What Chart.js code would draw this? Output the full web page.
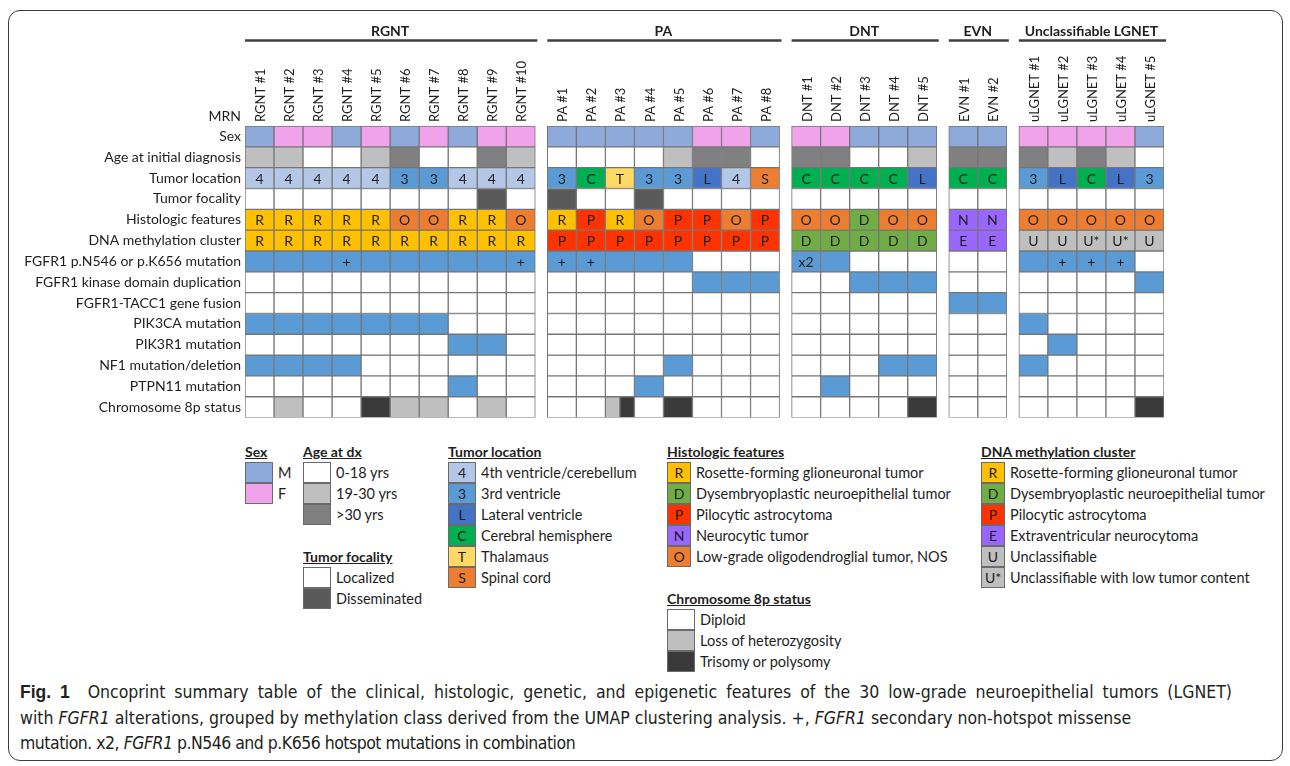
<!DOCTYPE html>
<html>
<head>
<meta charset="utf-8">
<script src="https://cdn.jsdelivr.net/npm/chart.js@4.4.1/dist/chart.umd.min.js"></script>
<style>
  body { margin: 0; background: #fff; font-family: Lato, "Open Sans", sans-serif; color: #1e1e1e; }
  #page { position: relative; width: 1290px; height: 766px; overflow: hidden; }
  #frame { position: absolute; left: 8px; top: 10px; width: 1273px; height: 749px; border: 1px solid #3c3c3c; border-radius: 12px; }
  #chartWrap { position: absolute; left: 0; top: 0; width: 1290px; height: 430px; }
  .lgTitle { position: absolute; font-size: 14px; font-weight: bold; text-decoration: underline; line-height: 16px; white-space: nowrap; }
  .lgBox { position: absolute; box-sizing: border-box; border: 1px solid #6b6b6b; height: 21px; font-size: 14px; line-height: 19px; text-align: center; }
  .lgText { position: absolute; font-size: 14.5px; line-height: 21px; white-space: nowrap; }
  .cap { position: absolute; left: 20px; font-family: "DejaVu Sans Condensed", sans-serif; font-size: 17.5px; line-height: 20px; white-space: nowrap; color: #231f20; }
  .cap b { font-family: "Liberation Sans", Arial, sans-serif; font-size: 17.5px; }
</style>
</head>
<body>
<div id="page">
  <div id="frame"></div>
  <div id="chartWrap"><canvas id="chart" width="1290" height="430"></canvas></div>
  <div id="legend"></div>
  <div class="cap" style="top:682px;word-spacing:4px"><b>Fig. 1</b>&nbsp; Oncoprint summary table of the clinical, histologic, genetic, and epigenetic features of the 30 low-grade neuroepithelial tumors (LGNET)</div>
  <div class="cap" style="top:708px">with <i>FGFR1</i> alterations, grouped by methylation class derived from the UMAP clustering analysis. +, <i>FGFR1</i> secondary non-hotspot missense</div>
  <div class="cap" style="top:733px;letter-spacing:-0.5px">mutation. x2, <i>FGFR1</i> p.N546 and p.K656 hotspot mutations in combination</div>
</div>
<script>
// groups and samples (columns)
const groups = ["RGNT", "PA", "DNT", "EVN", "Unclassifiable LGNET"];
const groupSizes = [10, 8, 5, 2, 5];
const samples = [
  "RGNT #1", "RGNT #2", "RGNT #3", "RGNT #4", "RGNT #5", "RGNT #6", "RGNT #7", "RGNT #8", "RGNT #9", "RGNT #10",
  "PA #1", "PA #2", "PA #3", "PA #4", "PA #5", "PA #6", "PA #7", "PA #8",
  "DNT #1", "DNT #2", "DNT #3", "DNT #4", "DNT #5",
  "EVN #1", "EVN #2",
  "uLGNET #1", "uLGNET #2", "uLGNET #3", "uLGNET #4", "uLGNET #5",
];

// rows
const rowLabels = [
  "Sex", "Age at initial diagnosis", "Tumor location", "Tumor focality", "Histologic features",
  "DNA methylation cluster", "FGFR1 p.N546 or p.K656 mutation", "FGFR1 kinase domain duplication",
  "FGFR1-TACC1 gene fusion", "PIK3CA mutation", "PIK3R1 mutation", "NF1 mutation/deletion",
  "PTPN11 mutation", "Chromosome 8p status",
];

const sexRow = ["M","F","F","M","F","M","F","M","F","F", "M","M","M","M","M","F","F","M", "F","F","M","M","M", "M","M", "F","F","F","F","M"];
// 0 = 0-18 yrs, 1 = 19-30 yrs, 2 = >30 yrs
const ageRow = [1,1,0,0,1,2,0,0,2,1, 0,0,0,0,1,2,2,0, 2,2,0,0,1, 2,2, 2,1,2,1,0];
const locationRow = ["4","4","4","4","4","3","3","4","4","4", "3","C","T","3","3","L","4","S", "C","C","C","C","L", "C","C", "3","L","C","L","3"];
// 0 = localized, 1 = disseminated
const focalityRow = [0,0,0,0,0,0,0,0,1,0, 1,0,0,1,0,0,0,0, 0,0,0,0,0, 0,0, 0,0,0,0,0];
const histologyRow = ["R","R","R","R","R","O","O","R","R","O", "R","P","R","O","P","P","O","P", "O","O","D","O","O", "N","N", "O","O","O","O","O"];
const methylationRow = ["R","R","R","R","R","R","R","R","R","R", "P","P","P","P","P","P","P","P", "D","D","D","D","D", "E","E", "U","U","U*","U*","U"];
// null = none, "" = mutated, "+" / "x2" = marked
const fgfr1MutRow = ["","","","+","","","","","","+", "+","+","","","",null,null,null, "x2","",null,null,null, null,null, "","+","+","+",null];
const kinaseDupRow = [0,0,0,0,0,0,0,0,0,0, 0,0,0,0,0,1,1,1, 0,0,1,1,1, 0,0, 0,0,0,0,1];
const fusionRow    = [0,0,0,0,0,0,0,0,0,0, 0,0,0,0,0,0,0,0, 0,0,0,0,0, 1,1, 0,0,0,0,0];
const pik3caRow    = [1,1,1,1,1,1,1,0,0,0, 0,0,0,0,0,0,0,0, 0,0,0,0,0, 0,0, 1,0,0,0,0];
const pik3r1Row    = [0,0,0,0,0,0,0,1,1,0, 0,0,0,0,0,0,0,0, 0,0,0,0,0, 0,0, 0,1,0,0,0];
const nf1Row       = [1,1,1,1,0,0,0,0,0,0, 0,0,0,0,1,0,0,0, 0,0,0,1,1, 0,0, 1,0,0,0,0];
const ptpn11Row    = [0,0,0,0,0,0,0,1,0,0, 0,0,0,1,0,0,0,0, 0,1,0,0,0, 0,0, 0,0,0,0,0];
// D = diploid, L = loss of heterozygosity, T = trisomy/polysomy, LT = both
const chr8pRow = ["D","L","D","D","T","L","L","D","L","D", "D","D","LT","D","T","D","D","D", "D","D","D","D","T", "D","D", "D","D","D","D","T"];

const COLORS = {
  male: "#8eaadb", female: "#f0a2ea",
  age: ["#ffffff", "#bfbfbf", "#808080"],
  loc: { "4": "#b4c7e7", "3": "#5b9bd5", L: "#4472c4", C: "#00b050", T: "#ffd966", S: "#ed7d31" },
  focal: ["#ffffff", "#595959"],
  dx: { R: "#ffc000", D: "#70ad47", P: "#ff3300", N: "#9966ff", O: "#ed7d31", E: "#9966ff", U: "#bfbfbf", "U*": "#bfbfbf" },
  mut: "#5b9bd5",
  chr: { D: "#ffffff", L: "#bfbfbf", T: "#3a3a3a" },
};

// column positions along a linear axis, with a gap between groups
const GAP = 0.414;
const colLeft = [];
let n = 0;
groupSizes.forEach((size, g) => {
  for (let i = 0; i < size; i++) { colLeft.push(n + g * GAP); n++; }
});
const xMax = samples.length + (groupSizes.length - 1) * GAP;

function cell(row, i, color, text) {
  return { x: [colLeft[i], colLeft[i] + 1], y: row, c: color, t: text || "" };
}

function rowData(row, values, fn) {
  const out = [];
  values.forEach((v, i) => {
    const r = fn(v, i);
    if (Array.isArray(r)) out.push(...r); else out.push(r);
  });
  return out;
}

const binary = (row, vals) => rowData(row, vals, (v, i) => cell(row, i, v ? COLORS.mut : "#ffffff"));

const rows = [
  rowData(rowLabels[0], sexRow, (v, i) => cell(rowLabels[0], i, v === "M" ? COLORS.male : COLORS.female)),
  rowData(rowLabels[1], ageRow, (v, i) => cell(rowLabels[1], i, COLORS.age[v])),
  rowData(rowLabels[2], locationRow, (v, i) => cell(rowLabels[2], i, COLORS.loc[v], v)),
  rowData(rowLabels[3], focalityRow, (v, i) => cell(rowLabels[3], i, COLORS.focal[v])),
  rowData(rowLabels[4], histologyRow, (v, i) => cell(rowLabels[4], i, COLORS.dx[v], v)),
  rowData(rowLabels[5], methylationRow, (v, i) => cell(rowLabels[5], i, COLORS.dx[v], v)),
  rowData(rowLabels[6], fgfr1MutRow, (v, i) => cell(rowLabels[6], i, v === null ? "#ffffff" : COLORS.mut, v)),
  binary(rowLabels[7], kinaseDupRow),
  binary(rowLabels[8], fusionRow),
  binary(rowLabels[9], pik3caRow),
  binary(rowLabels[10], pik3r1Row),
  binary(rowLabels[11], nf1Row),
  binary(rowLabels[12], ptpn11Row),
  rowData(rowLabels[13], chr8pRow, (v, i) => {
    if (v === "LT") {
      const half = colLeft[i] + 0.5;
      return [
        { x: [colLeft[i], half], y: rowLabels[13], c: COLORS.chr.L, t: "" },
        { x: [half, colLeft[i] + 1], y: rowLabels[13], c: COLORS.chr.T, t: "" },
      ];
    }
    return cell(rowLabels[13], i, COLORS.chr[v]);
  }),
];

const datasets = rows.map((data, r) => ({
  label: rowLabels[r],
  data: data,
  backgroundColor: (ctx) => (ctx.raw ? ctx.raw.c : "#ffffff"),
  borderColor: "#767676",
  borderWidth: 1,
  borderSkipped: false,
  grouped: false,
  barPercentage: 1,
  categoryPercentage: 1,
}));

// letters inside cells
const cellTextPlugin = {
  id: "cellText",
  afterDatasetsDraw(chart) {
    const ctx = chart.ctx;
    ctx.save();
    ctx.font = "14px Lato, sans-serif";
    ctx.fillStyle = "#1e1e1e";
    ctx.textAlign = "center";
    ctx.textBaseline = "middle";
    chart.data.datasets.forEach((ds, d) => {
      chart.getDatasetMeta(d).data.forEach((el, j) => {
        const t = ds.data[j].t;
        if (!t) return;
        ctx.fillText(t, (el.x + el.base) / 2, el.y + 1);
      });
    });
    ctx.restore();
  },
};

// group titles with underline, and the MRN label
const headerPlugin = {
  id: "headers",
  afterDraw(chart) {
    const { ctx, chartArea } = chart;
    const x = chart.scales.x;
    ctx.save();
    ctx.fillStyle = "#1e1e1e";
    ctx.strokeStyle = "#3f3f3f";
    ctx.lineWidth = 2.5;
    let start = 0;
    groups.forEach((name, g) => {
      const l = x.getPixelForValue(colLeft[start]);
      const r = x.getPixelForValue(colLeft[start + groupSizes[g] - 1] + 1);
      ctx.font = "bold 14px Lato, sans-serif";
      ctx.textAlign = "center";
      ctx.textBaseline = "middle";
      ctx.fillText(name, (l + r) / 2, 31);
      ctx.beginPath();
      ctx.moveTo(l, 40.5);
      ctx.lineTo(r + 2, 40.5);
      ctx.stroke();
      start += groupSizes[g];
    });
    ctx.font = "14px Lato, sans-serif";
    ctx.textAlign = "right";
    ctx.fillText("MRN", chartArea.left - 4, chartArea.top - 10);
    ctx.restore();
  },
};

new Chart(document.getElementById("chart"), {
  type: "bar",
  data: { datasets },
  options: {
    indexAxis: "y",
    responsive: false,
    animation: false,
    layout: { padding: { left: 0, right: 126, top: 0, bottom: 10 } },
    plugins: { legend: { display: false }, tooltip: { enabled: false } },
    scales: {
      x: {
        type: "linear",
        position: "top",
        min: 0,
        max: xMax,
        grid: { display: false, drawTicks: false },
        border: { display: false },
        afterBuildTicks: (s) => { s.ticks = colLeft.map((l) => ({ value: l + 0.5 })); },
        afterFit: (s) => { s.height = 126; },
        ticks: {
          autoSkip: false,
          minRotation: 90,
          maxRotation: 90,
          padding: 4,
          labelOffset: 17,
          color: "#1e1e1e",
          font: { family: "Lato, sans-serif", size: 13 },
          callback: (v, i) => samples[i],
        },
      },
      y: {
        type: "category",
        labels: rowLabels,
        offset: true,
        grid: { display: false, drawTicks: false },
        border: { display: false },
        afterFit: (s) => { s.width = 245; },
        ticks: {
          autoSkip: false,
          padding: 4,
          color: "#1e1e1e",
          font: { family: "Lato, sans-serif", size: 14 },
        },
      },
    },
  },
  plugins: [cellTextPlugin, headerPlugin],
});

// ---- legend (HTML) ----
const legendBlocks = [
  { x: 245, y: 444, title: "Sex", w: 28, items: [[COLORS.male, "", "M"], [COLORS.female, "", "F"]] },
  { x: 303, y: 444, title: "Age at dx", w: 28, items: [[COLORS.age[0], "", "0-18 yrs"], [COLORS.age[1], "", "19-30 yrs"], [COLORS.age[2], "", ">30 yrs"]] },
  { x: 303, y: 549, title: "Tumor focality", w: 28, items: [[COLORS.focal[0], "", "Localized"], [COLORS.focal[1], "", "Disseminated"]] },
  { x: 448, y: 444, title: "Tumor location", w: 28, items: [
    [COLORS.loc["4"], "4", "4th ventricle/cerebellum"], [COLORS.loc["3"], "3", "3rd ventricle"],
    [COLORS.loc.L, "L", "Lateral ventricle"], [COLORS.loc.C, "C", "Cerebral hemisphere"],
    [COLORS.loc.T, "T", "Thalamaus"], [COLORS.loc.S, "S", "Spinal cord"]] },
  { x: 667, y: 444, title: "Histologic features", w: 24, items: [
    [COLORS.dx.R, "R", "Rosette-forming glioneuronal tumor"], [COLORS.dx.D, "D", "Dysembryoplastic neuroepithelial tumor"],
    [COLORS.dx.P, "P", "Pilocytic astrocytoma"], [COLORS.dx.N, "N", "Neurocytic tumor"],
    [COLORS.dx.O, "O", "Low-grade oligodendroglial tumor, NOS"]] },
  { x: 667, y: 591, title: "Chromosome 8p status", w: 28, items: [[COLORS.chr.D, "", "Diploid"], [COLORS.chr.L, "", "Loss of heterozygosity"], [COLORS.chr.T, "", "Trisomy or polysomy"]] },
  { x: 981, y: 444, title: "DNA methylation cluster", w: 24, items: [
    [COLORS.dx.R, "R", "Rosette-forming glioneuronal tumor"], [COLORS.dx.D, "D", "Dysembryoplastic neuroepithelial tumor"],
    [COLORS.dx.P, "P", "Pilocytic astrocytoma"], [COLORS.dx.E, "E", "Extraventricular neurocytoma"],
    [COLORS.dx.U, "U", "Unclassifiable"], [COLORS.dx["U*"], "U*", "Unclassifiable with low tumor content"]] },
];

const legendEl = document.getElementById("legend");
legendBlocks.forEach((b) => {
  const t = document.createElement("div");
  t.className = "lgTitle";
  t.style.left = b.x + "px";
  t.style.top = b.y + "px";
  t.textContent = b.title;
  legendEl.appendChild(t);
  b.items.forEach((it, i) => {
    const top = b.y + 18 + i * 21;
    const box = document.createElement("div");
    box.className = "lgBox";
    box.style.left = b.x + "px";
    box.style.top = top + "px";
    box.style.width = b.w + "px";
    box.style.background = it[0];
    box.textContent = it[1];
    legendEl.appendChild(box);
    const tx = document.createElement("div");
    tx.className = "lgText";
    tx.style.left = (b.x + b.w + 5) + "px";
    tx.style.top = top + "px";
    tx.textContent = it[2];
    legendEl.appendChild(tx);
  });
});
</script>
</body>
</html>
